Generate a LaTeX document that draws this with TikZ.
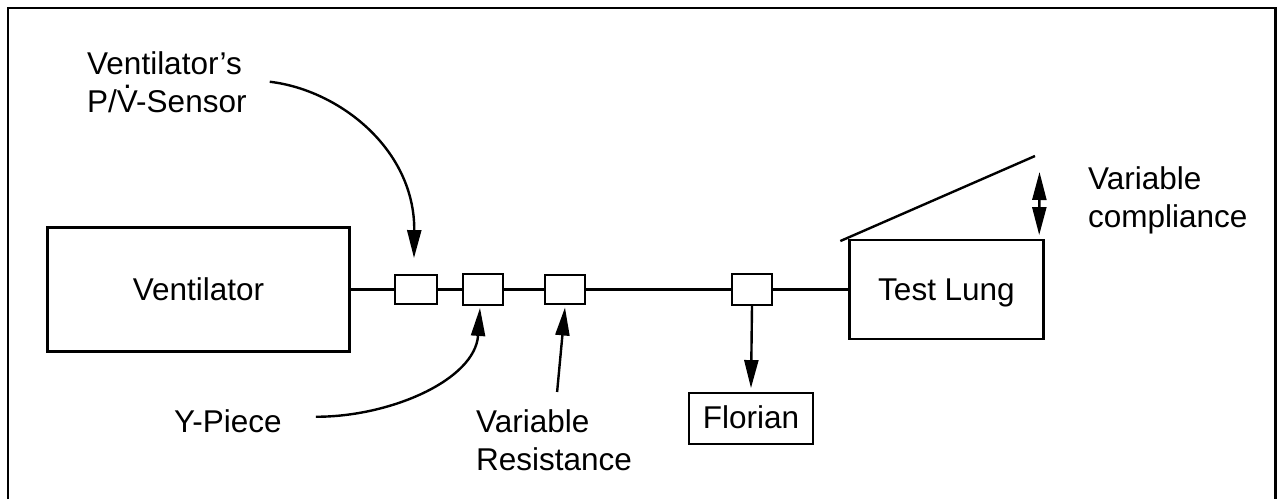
\documentclass[tikz,border=0pt]{standalone}
\usepackage{fontspec}
\setmainfont{Liberation Sans}
\usetikzlibrary{arrows.meta,calc}
\newcommand{\myVdot}{\leavevmode\setbox0\hbox{V}\rlap{\hbox to \wd0{\hss\raisebox{0.76em}{.}\hss}}V}
\begin{document}
\begin{tikzpicture}[x=1pt,y=-1pt,line width=2.4pt,
  every node/.style={font=\fontsize{31.5}{38}\selectfont, inner sep=0pt},
  box/.style={draw, rectangle, text height=22pt, text depth=0pt},
  lab/.style={align=left, anchor=base west},
  arr/.style={-{Triangle[length=28pt,width=14pt]}},
  darr/.style={{Triangle[length=28pt,width=14pt]}-{Triangle[length=28pt,width=14pt]}}]
\useasboundingbox (0,0) rectangle (1278,499);
% frame
\draw (8,499) -- (8,8) -- (1275.5,8) -- (1275.5,499);
% boxes
\node[box, minimum width=302pt, minimum height=124pt] (vent) at (198.5,289.5) {Ventilator};
\node[box, minimum width=41.5pt, minimum height=28.5pt] (s1) at (416,289.5) {};
\node[box, minimum width=39.5pt, minimum height=30.5pt] (s2) at (483,289.5) {};
\node[box, minimum width=39.5pt, minimum height=29.5pt] (s3) at (565,289.5) {};
\node[box, minimum width=39.5pt, minimum height=30.5pt] (s4) at (752,289.5) {};
\node[box, minimum width=194pt, minimum height=98.5pt] (lung) at (946.5,289.5) {Test Lung};
\node[box, minimum width=123.5pt, minimum height=50.5pt, text depth=2pt] (flor) at (751,418.5) {Florian};
% pipe
\draw (vent.east) -- (s1.west);
\draw (s1.east) -- (s2.west);
\draw (s2.east) -- (s3.west);
\draw (s3.east) -- (s4.west);
\draw (s4.east) -- (lung.west);
\draw[arr] (s4.south) -- ($(flor.north)+(0,-4)$);
% labels (base = baseline of last line)
\node[lab] (senslab) at (86,112) {Ventilator’s\\P/\myVdot-Sensor};
\node[lab] (ylab) at (173,432) {Y-Piece};
\node[lab] (reslab) at (475,470) {Variable\\Resistance};
\node[lab] (complab) at (1087,227) {Variable\\compliance};
% connectors
\draw[arr] ($(senslab.east)+(22,0)$) .. controls (340,90) and (415,150) .. ($(s1.north)+(-2,-16)$);
\draw[arr] ($(ylab.east)+(33,-4)$) .. controls (390,417) and (475,380) .. ($(s2.south)+(-3,2)$);
\draw[arr] ($(reslab.north)+(3,-16)$) -- ($(s3.south)+(0,2)$);
% lid and compliance arrow
\coordinate (lidend) at (1035,156);
\coordinate (comptop) at (1039.5,172);
\draw ($(lung.north west)+(-8,2)$) -- (lidend);
\draw[darr] (comptop) -- ($(lung.north east)+(-5.5,-4)$);
\end{tikzpicture}
\end{document}
